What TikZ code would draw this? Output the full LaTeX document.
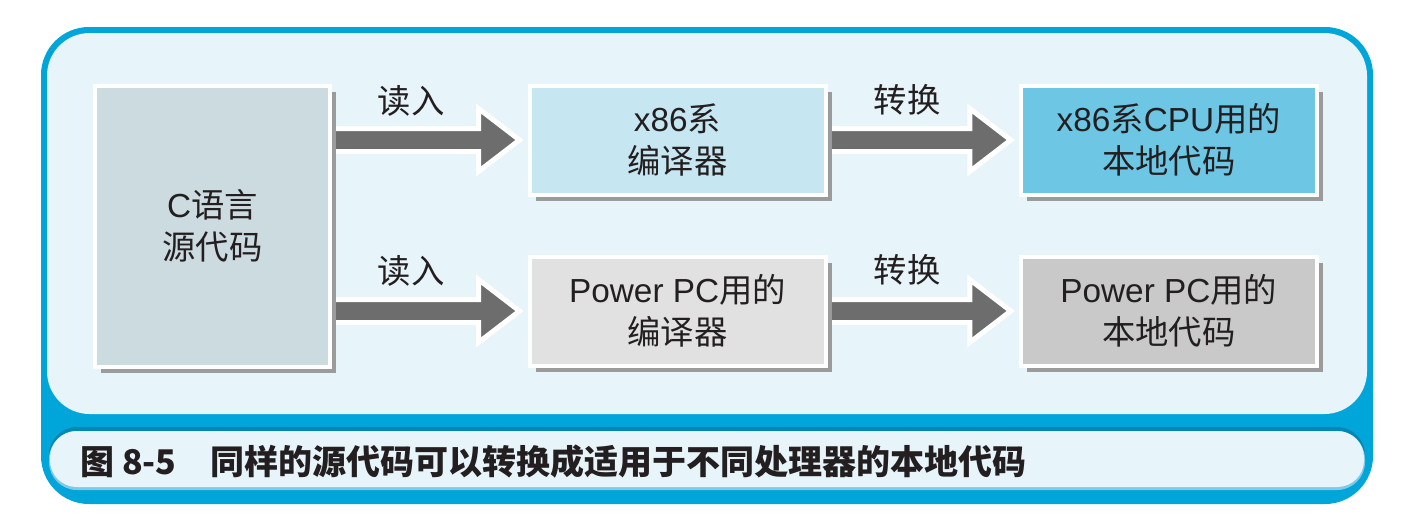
\documentclass[tikz,border=0pt]{standalone}
\usepackage{fontspec}
\setmainfont{Noto Sans CJK SC}
\newfontfamily\lat{Liberation Sans}
\usetikzlibrary{calc,shadows}
\definecolor{frameblue}{HTML}{00A5DA}
\definecolor{panelbg}{HTML}{E7F4FA}
\definecolor{capdark}{HTML}{0088B4}
\definecolor{caplight}{HTML}{7ECAE8}
\definecolor{cfill}{HTML}{CCDBE0}
\definecolor{xcfill}{HTML}{C6E6F1}
\definecolor{xnfill}{HTML}{6EC6E5}
\definecolor{pcfill}{HTML}{E1E1E1}
\definecolor{pnfill}{HTML}{C9C9C9}
\definecolor{arrgray}{HTML}{6D6D6D}
\definecolor{shadowgray}{HTML}{9B9B9B}
\definecolor{ink}{HTML}{231F20}
\pgfdeclarelayer{back}
\pgfdeclarelayer{mid}
\pgfsetlayers{back,mid,main}
\tikzset{
  box/.style={draw=white, line width=3pt, minimum width=222pt, minimum height=81.75pt,
    inner sep=0pt, align=center, text=ink, font=\fontsize{25}{31.5}\selectfont,
    drop shadow={shadow xshift=4.5pt, shadow yshift=-4.5pt, fill=shadowgray, opacity=1}},
  lbl/.style={inner sep=0pt, text=ink, font=\fontsize{25}{30}\selectfont},
  fatarr/.style={fill=arrgray, draw=white, line width=3.75pt, line join=miter}
}
\newcommand\fatarrow[2]{%
  \draw[fatarr] let \p1=(#1.east), \p2=($(#2.west)+(-8,0)$) in
    (\x1,\y2+8.625pt) -- (\x2-30.75pt,\y2+8.625pt) -- (\x2-30.75pt,\y2+23.625pt)
    -- (\x2,\y2) -- (\x2-30.75pt,\y2-23.625pt) -- (\x2-30.75pt,\y2-8.625pt)
    -- (\x1,\y2-8.625pt) -- cycle;}
\begin{document}
\begin{tikzpicture}[x=0.75pt,y=-0.75pt]
\useasboundingbox (0,0) rectangle (1402,526);
\begin{pgfonlayer}{back}
  \fill[frameblue, rounded corners=36pt] (41,27) rectangle (1373,504);
  \fill[panelbg, rounded corners=32pt] (47,33) rectangle (1367,414);
  \fill[capdark, rounded corners=21pt] (49,427) rectangle (1365,486);
  \fill[caplight, rounded corners=21pt] (49,431) rectangle (1365,490);
  \fill[panelbg, rounded corners=20pt] (50,431) rectangle (1364,487);
\end{pgfonlayer}

\node[box, fill=cfill, minimum width=176.25pt, minimum height=210.75pt] (cbox) at (212.5,226) {{\lat C}语言\\源代码};
\node[box, fill=xcfill] (xcomp) at (677.5,140) {{\lat x86}系\\编译器};
\node[box, fill=xnfill] (xnat) at (1168.75,140) {{\lat x86}系{\lat CPU}用的\\本地代码};
\node[box, fill=pcfill] (pcomp) at (677.5,311) {{\lat Power PC}用的\\编译器};
\node[box, fill=pnfill] (pnat) at (1168.75,311) {{\lat Power PC}用的\\本地代码};

\begin{pgfonlayer}{mid}
  \fatarrow{cbox}{xcomp}
  \fatarrow{cbox}{pcomp}
  \fatarrow{xcomp}{xnat}
  \fatarrow{pcomp}{pnat}
\end{pgfonlayer}

\node[lbl] (l1) at (411,101) {读入};
\node[lbl] (l2) at (411,271) {读入};
\node[lbl] (l3) at (907,100) {转换};
\node[lbl] (l4) at (907,270) {转换};

\node[anchor=west, inner sep=0pt, text=ink, font=\bfseries\fontsize{25.5}{30}\selectfont] (cap) at (80,462)
  {图 8-5　同样的源代码可以转换成适用于不同处理器的本地代码};
\end{tikzpicture}
\end{document}
